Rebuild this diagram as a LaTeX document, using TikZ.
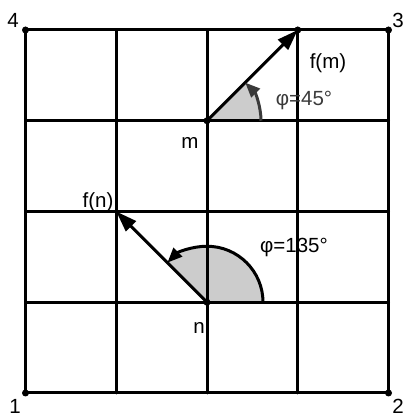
\documentclass[tikz,border=0pt]{standalone}
\usepackage{fontspec}
\setmainfont{Liberation Sans}
\usetikzlibrary{arrows.meta}
\definecolor{sectorgray}{HTML}{CCCCCC}
\definecolor{darkarc}{HTML}{3A3A3A}
\begin{document}
\begin{tikzpicture}[x=1pt,y=1pt,
  gridline/.style={line width=3pt,line cap=round},
  vec/.style={line width=3pt,-{Triangle[length=21pt,width=14pt]}},
  anglearc/.style={line width=3pt,-{Triangle[length=15pt,width=12pt]}},
  lbl/.style={inner sep=0pt,font=\fontsize{20.5}{24}\selectfont},
  dot/.style={circle,fill=black,inner sep=0pt,minimum size=7pt}]
\useasboundingbox (0,0) rectangle (406,416);
\begin{scope}[shift={(25.5,23)},x=90.75pt,y=90.75pt]
  \coordinate (c1) at (0,0);
  \coordinate (c2) at (4,0);
  \coordinate (c3) at (4,4);
  \coordinate (c4) at (0,4);
  \coordinate (m) at (2,3);
  \coordinate (fm) at (3,4);
  \coordinate (n) at (2,1);
  \coordinate (fn) at (1,2);
  % sectors
  \fill[sectorgray] (m) -- ++(0:54pt) arc[start angle=0,end angle=45,radius=54pt] -- cycle;
  \fill[sectorgray] (n) -- ++(0:56pt) arc[start angle=0,end angle=135,radius=56pt] -- cycle;
  % grid
  \foreach \i in {0,...,4} {
    \draw[gridline] (\i,0) -- (\i,4);
    \draw[gridline] (0,\i) -- (4,\i);
  }
  % vectors
  \draw[vec] (m) -- (fm);
  \draw[vec] (n) -- (fn);
  % angle arcs
  \draw[anglearc,darkarc] ([shift={(0:54pt)}]m) arc[start angle=0,end angle=45,radius=54pt];
  \draw[anglearc] ([shift={(0:56pt)}]n) arc[start angle=0,end angle=135,radius=56pt];
  % dots
  \foreach \p in {c1,c2,c3,c4,m,fm,n} \node[dot] at (\p) {};
\end{scope}
\node[lbl] (l4) at (13,396) {4};
\node[lbl] (l1) at (15,10) {1};
\node[lbl] (l2) at (398,10) {2};
\node[lbl] (l3) at (398,396) {3};
\node[lbl] (lfm) at (328,353) {f(m)};
\node[lbl,text=darkarc] (lphim) at (304,316) {φ=45°};
\node[lbl] (lm) at (190,273) {m};
\node[lbl] (lfn) at (98,214) {f(n)};
\node[lbl] (lphin) at (294,169) {φ=135°};
\node[lbl] (ln) at (199,88) {n};
\end{tikzpicture}
\end{document}
